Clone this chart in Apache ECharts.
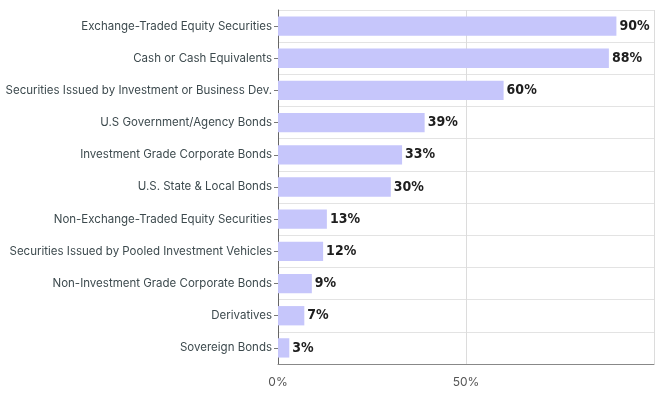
<!DOCTYPE html>
<html><head><meta charset="utf-8">
<script src="https://cdn.jsdelivr.net/npm/echarts@6/dist/echarts.min.js"></script>
<style>html,body{margin:0;padding:0;background:#fff}#c{width:666px;height:394px}</style>
</head><body><div id="c"></div>
<script>
const categories = [
  "Exchange-Traded Equity Securities",
  "Cash or Cash Equivalents",
  "Securities Issued by Investment or Business Dev.",
  "U.S Government/Agency Bonds",
  "Investment Grade Corporate Bonds",
  "U.S. State & Local Bonds",
  "Non-Exchange-Traded Equity Securities",
  "Securities Issued by Pooled Investment Vehicles",
  "Non-Investment Grade Corporate Bonds",
  "Derivatives",
  "Sovereign Bonds"
];
const values = [90, 88, 60, 39, 33, 30, 13, 12, 9, 7, 3];
const xTicks = [0, 50, 100];

const chart = echarts.init(document.getElementById('c'), null, {renderer: 'canvas'});
chart.setOption({
  animation: false,
  grid: {left: 278, right: 12, top: 10, bottom: 30, containLabel: false},
  xAxis: {
    type: 'value', min: xTicks[0], max: xTicks[xTicks.length - 1], interval: 50,
    axisLine: {show: true, onZero: false, lineStyle: {color: '#888'}},
    axisTick: {show: false},
    splitLine: {show: true, lineStyle: {color: '#dcdcdc', width: 1}},
    axisLabel: {
      color: '#555', fontSize: 12, fontFamily: 'Inter', margin: 12,
      formatter: v => v === 100 ? '' : v + '%'
    }
  },
  yAxis: {
    type: 'category', data: categories, inverse: true,
    axisLine: {show: true, lineStyle: {color: '#666', width: 1}},
    axisTick: {show: true, alignWithLabel: true, length: 4, lineStyle: {color: '#777'}},
    splitLine: {show: true, lineStyle: {color: '#e3e3e3', width: 1}},
    axisLabel: {color: '#3d4a4e', fontSize: 11.5, fontFamily: 'Inter', margin: 6}
  },
  series: [{
    type: 'bar', data: values, barWidth: '60%',
    itemStyle: {color: '#c6c6fb'},
    label: {
      show: true, position: 'right', distance: 3,
      formatter: p => p.value + '%',
      color: '#1e1e1e', fontSize: 14, fontWeight: 'bold',
      fontFamily: '"DejaVu Sans Condensed", "Liberation Sans Narrow", sans-serif'
    }
  }]
});
</script></body></html>
